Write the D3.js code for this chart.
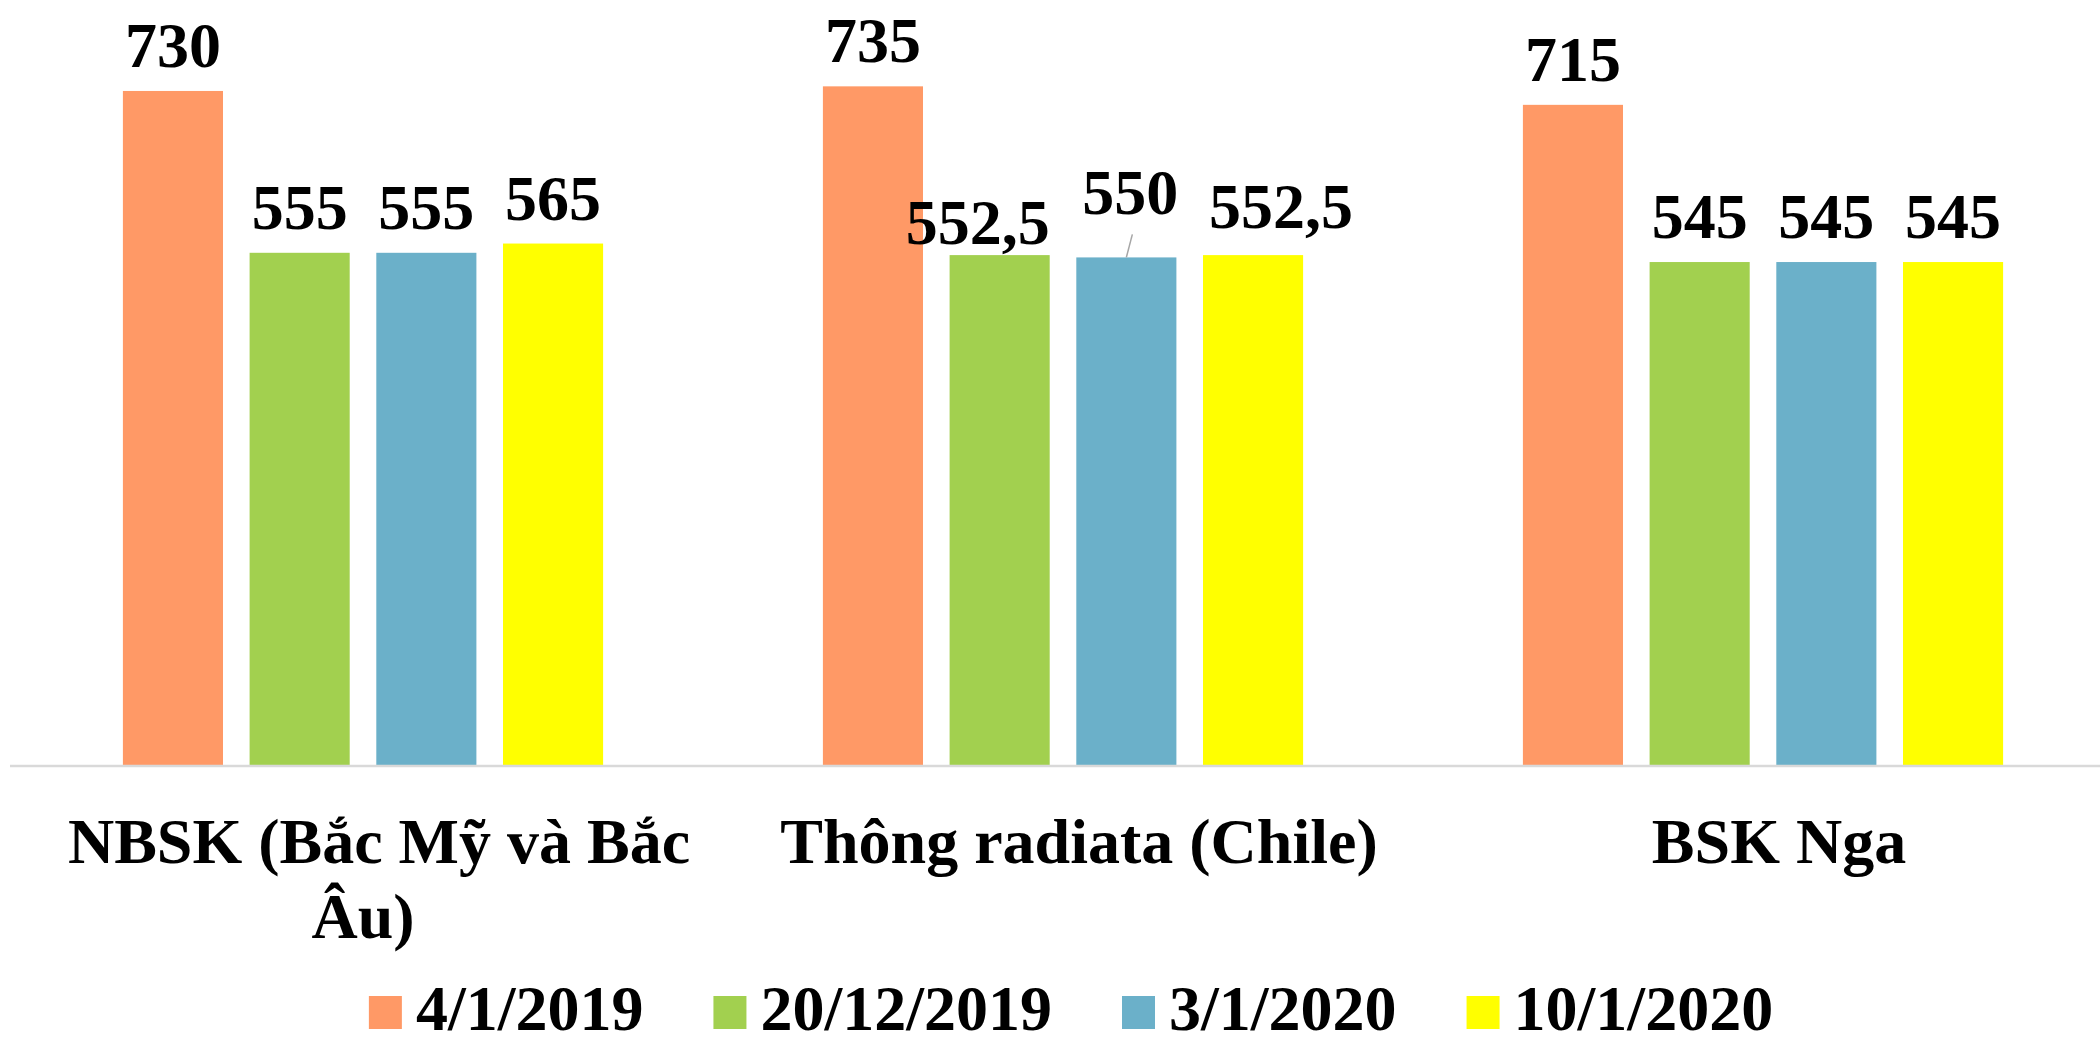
<!DOCTYPE html>
<html>
<head>
<meta charset="utf-8">
<script src="https://cdn.jsdelivr.net/npm/d3@7"></script>
<style>
  html, body { margin: 0; padding: 0; background: #ffffff; }
  svg { display: block; }
  text { font-family: "Liberation Serif", "Times New Roman", serif; font-weight: bold; fill: #000; }
</style>
</head>
<body>
<svg id="chart" width="2100" height="1040"></svg>
<script>
// ---- data ----
const categories = [["NBSK (Bắc Mỹ và Bắc", "Âu)"], ["Thông radiata (Chile)"], ["BSK Nga"]];
const seriesNames = ["4/1/2019", "20/12/2019", "3/1/2020", "10/1/2020"];
const s2019_01_04 = [730, 735, 715];
const s2019_12_20 = [555, 552.5, 545];
const s2020_01_03 = [555, 550, 545];
const s2020_01_10 = [565, 552.5, 545];
const seriesValues = [s2019_01_04, s2019_12_20, s2020_01_03, s2020_01_10];
const colors = ["#FF9966", "#A2D04F", "#6BB0C9", "#FFFF00"];

// manual label nudges (as in the original, where some labels were moved)
const labelNudge = { "1-1": [-22, 13], "1-2": [4, -19, true], "1-3": [28, -3] };

const svg = d3.select("#chart");
const W = 2100, H = 1040;
const y0 = 766;
const pxPerUnit = 0.9247;
const yMax = 800;

const x0 = d3.scaleBand().domain(d3.range(categories.length)).range([13, 2113])
  .paddingInner(0.314).paddingOuter(0.157);
const x1 = d3.scaleBand().domain(d3.range(seriesNames.length)).range([0, x0.bandwidth()])
  .paddingInner(0.21).paddingOuter(0);
const y = d3.scaleLinear().domain([0, yMax]).range([y0, y0 - yMax * pxPerUnit]);

const fmt = d3.formatLocale({decimal: ",", thousands: ".", grouping: [3], currency: ["", ""]}).format("~f");

const rows = [];
categories.forEach((c, ci) => {
  seriesNames.forEach((s, si) => {
    rows.push({ci, si, v: seriesValues[si][ci]});
  });
});

// bars
svg.append("g").selectAll("rect").data(rows).join("rect")
  .attr("x", d => x0(d.ci) + x1(d.si))
  .attr("y", d => y(d.v))
  .attr("width", x1.bandwidth())
  .attr("height", d => y(0) - y(d.v))
  .attr("fill", d => colors[d.si]);

// axis line
const xAxis = d3.axisBottom(x0).tickSize(0).tickFormat(() => "");
const ax = svg.append("g").attr("transform", `translate(0,${y0})`).call(xAxis);
ax.select(".domain").attr("d", `M10,0H${W}`).attr("stroke", "#D9D9D9").attr("stroke-width", 2.5);

// value labels
const lg = svg.append("g");
rows.forEach(d => {
  const n = labelNudge[d.ci + "-" + d.si] || [0, 0];
  const cx = x0(d.ci) + x1(d.si) + x1.bandwidth() / 2;
  const by = y(d.v) - 24;
  if (n[2]) {
    lg.append("line")
      .attr("x1", cx).attr("y1", y(d.v))
      .attr("x2", cx + 6).attr("y2", by + n[1] + 20)
      .attr("stroke", "#A6A6A6").attr("stroke-width", 1.5);
  }
  lg.append("text")
    .attr("x", cx + n[0]).attr("y", by + n[1])
    .attr("text-anchor", "middle")
    .attr("font-size", 64)
    .text(fmt(d.v));
});

// category labels
const cg = svg.append("g");
categories.forEach((lines, ci) => {
  const cx = x0(ci) + x0.bandwidth() / 2;
  const t = cg.append("text").attr("text-anchor", "middle").attr("font-size", 64);
  lines.forEach((ln, i) => {
    t.append("tspan")
      .attr("x", cx + (i === 0 ? 16 : 0))
      .attr("y", i === 0 ? 863 : 938)
      .text(ln);
  });
});

// legend
const leg = svg.append("g");
const sq = 33, gapText = 14, gapItem = 70;
const items = seriesNames.map((s, i) => {
  const g = leg.append("g");
  g.append("rect").attr("width", sq).attr("height", sq).attr("y", -34).attr("fill", colors[i]);
  const t = g.append("text").attr("x", sq + gapText).attr("y", 0).attr("font-size", 64).text(s);
  return {g, w: sq + gapText + t.node().getComputedTextLength()};
});
const total = d3.sum(items, d => d.w) + gapItem * (items.length - 1);
let lx = 1071 - total / 2;
items.forEach(it => {
  it.g.attr("transform", `translate(${lx},1030)`);
  lx += it.w + gapItem;
});
</script>
</body>
</html>
